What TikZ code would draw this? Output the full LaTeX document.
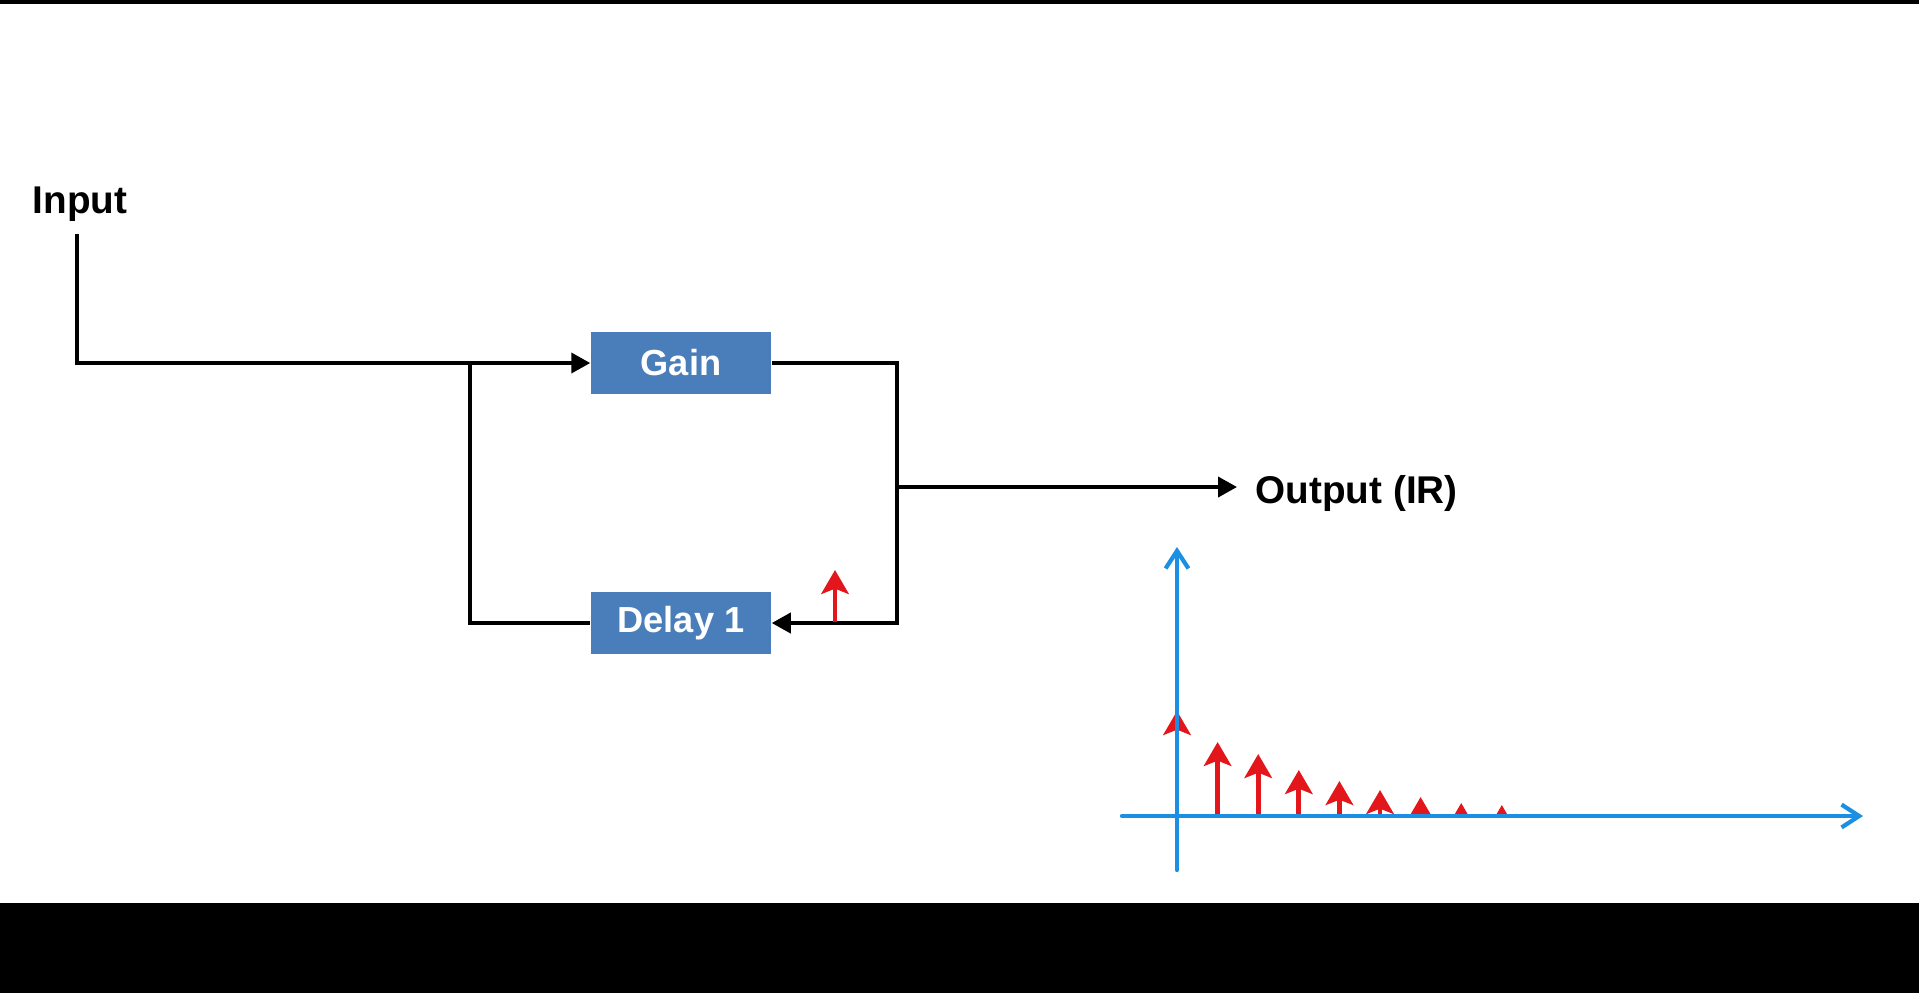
\documentclass[tikz,border=0pt]{standalone}
\usepackage{fontspec}
\setmainfont{Liberation Sans}
\usetikzlibrary{arrows.meta, positioning, calc}
\definecolor{boxBlue}{HTML}{4A7EBB}
\definecolor{axisBlue}{HTML}{1A8FE3}
\definecolor{pulseRed}{HTML}{E3161B}

\begin{document}
\begin{tikzpicture}[x=0.01cm, y=-0.01cm,
  block/.style={fill=boxBlue, draw=none, minimum width=1.8cm, minimum height=0.62cm, inner sep=0pt, font=\fontsize{10.3pt}{12pt}\selectfont\bfseries, text=white},
  lbl/.style={inner sep=0pt, font=\fontsize{11pt}{13pt}\selectfont\bfseries},
  wire/.style={line width=1.05pt, black},
  arr/.style={wire, -{Triangle[length=5.4pt, width=5.7pt]}},
  pulse/.style={pulseRed, line width=1.4pt, -{Stealth[length=6.8pt, width=7.8pt, inset=1.5pt]}},
  axis/.style={axisBlue, line width=1.2pt, line cap=round, -{Straight Barb[length=5pt, width=6.5pt]}},
]
  % frame
  \useasboundingbox (0,0) rectangle (1919,993);
  \fill[black] (0,0) rectangle (1919,4);
  \fill[black] (0,903) rectangle (1919,993);

  % Blocks
  \node[block] (gain)  at (681,363) {Gain};
  \node[block] (delay) at (681,623) {Delay 1};
  \node[lbl, anchor=base] (input) at (80,213) {Input};
  \node[lbl, anchor=base west] (output) at (1255,503) {Output (IR)};

  \coordinate (in0) at (77,234);
  \coordinate (jin) at (470,363);
  \coordinate (jr) at (897,363);
  \coordinate (jout) at (897,487);
  \coordinate (otip) at (1237,487);

  % Wires
  \draw[arr] (in0) |- (gain.west);
  \draw[wire] (jin) |- (delay.west);
  \draw[arr] (gain.east) -- (jr) |- (delay.east);
  \draw[arr] (jout) -- (otip);

  % Pulse going into the delay
  \draw[pulse] (835,622) -- (835,570);

  % Impulse response
  \begin{scope}
    \clip (1100,540) rectangle (1900,816);
    \foreach \i/\h in {0/105,1/74,2/62,3/46,4/35,5/26,6/19,7/13,8/11}
      \draw[pulse] (1177+40.6*\i,816) -- ++(0,-\h);
  \end{scope}
  \draw[axis] (1122,816) -- (1863,816);
  \draw[axis] (1177,870) -- (1177,547);
\end{tikzpicture}
\end{document}
